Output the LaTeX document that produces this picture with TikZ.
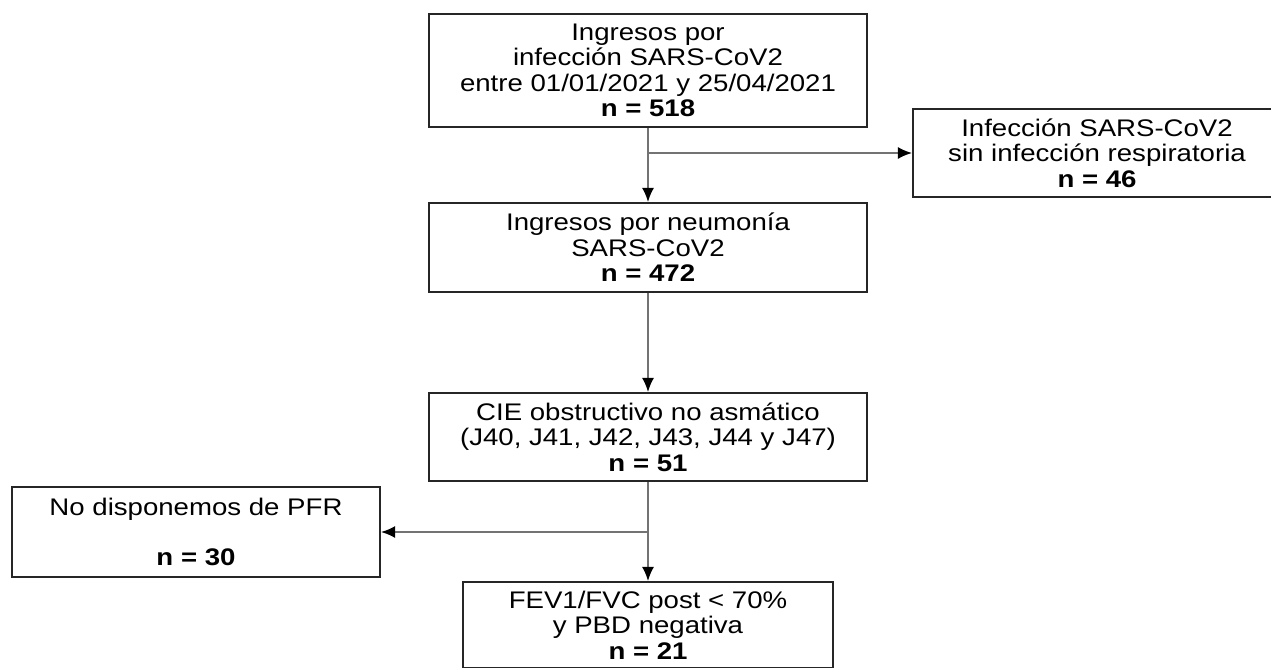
\documentclass[tikz,border=0pt]{standalone}
\usepackage{fontspec}
\setmainfont[FakeStretch=1.15]{Liberation Sans}
\usetikzlibrary{arrows.meta}

\begin{document}
\begin{tikzpicture}[
    x=1pt, y=-1pt,
    every node/.style={font=\fontsize{24}{25.5}\selectfont},
    boxstyle/.style={rectangle, draw=black!85, line width=2.2pt, align=center, inner sep=0pt},
    flow/.style={draw=black!55, line width=1.5pt, -{Latex[length=14pt,width=12pt,color=black]}}
]
  \useasboundingbox (0,0) rectangle (1271,667);
  \clip (0,0) rectangle (1271,667);

  % main column
  \node[boxstyle, minimum width=438pt, minimum height=113pt] (ing) at (648,70.5)
    {Ingresos por\\infección SARS-CoV2\\entre 01/01/2021 y 25/04/2021\\\textbf{n = 518}};
  \node[boxstyle, minimum width=438pt, minimum height=89pt] (neu) at (648,247.5)
    {Ingresos por neumonía\\SARS-CoV2\\\textbf{n = 472}};
  \node[boxstyle, minimum width=438pt, minimum height=88pt] (cie) at (648,437)
    {CIE obstructivo no asmático\\(J40, J41, J42, J43, J44 y J47)\\\textbf{n = 51}};
  \node[boxstyle, minimum width=370pt, minimum height=86pt] (fev) at (648,625)
    {FEV1/FVC post < 70\%\\y PBD negativa\\\textbf{n = 21}};

  % excluded
  \node[boxstyle, minimum width=368pt, minimum height=88pt] (excl) at (1097,153)
    {Infección SARS-CoV2\\sin infección respiratoria\\\textbf{n = 46}};
  \node[boxstyle, minimum width=368pt, minimum height=90pt] (nopfr) at (196,532)
    {No disponemos de PFR\\[24pt]\textbf{n = 30}};

  % connectors
  \coordinate (split1) at (ing.south |- excl.west);
  \coordinate (split2) at (cie.south |- nopfr.east);
  \draw[flow] (split1) -- (excl.west);
  \draw[flow] (split2) -- (nopfr.east);
  \draw[flow] (ing.south) -- (neu.north);
  \draw[flow] (neu.south) -- (cie.north);
  \draw[flow] (cie.south) -- (fev.north);

\end{tikzpicture}
\end{document}
